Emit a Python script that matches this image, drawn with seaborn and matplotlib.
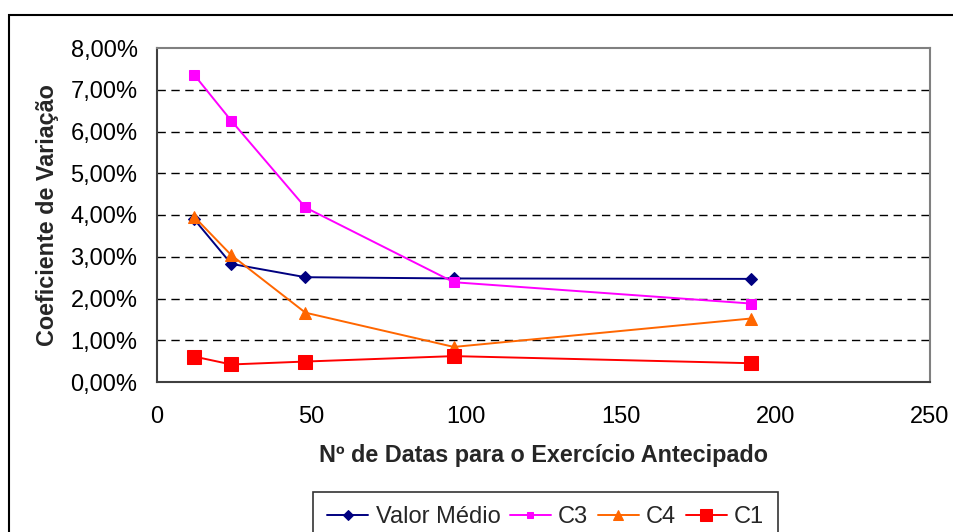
import matplotlib
matplotlib.use("Agg")
import matplotlib.pyplot as plt
import seaborn as sns
import pandas as pd
from matplotlib.patches import Rectangle
from matplotlib.ticker import FuncFormatter

sns.set_theme(style="white")
plt.rcParams['font.family'] = ['Liberation Sans', 'DejaVu Sans']

x_vals = [12, 24, 48, 96, 192]
valor_medio = [3.90, 2.83, 2.51, 2.48, 2.47]
c3 = [7.36, 6.26, 4.18, 2.39, 1.88]
c4 = [3.96, 3.04, 1.66, 0.84, 1.52]
c1 = [0.61, 0.42, 0.49, 0.62, 0.45]
series_names = ["Valor Médio", "C3", "C4", "C1"]
y_ticks = [0, 1, 2, 3, 4, 5, 6, 7, 8]
x_ticks = [0, 50, 100, 150, 200, 250]

styles = {
    "Valor Médio": dict(color="#000080", marker="D", markersize=6.5),
    "C3": dict(color="#FF00FF", marker="s", markersize=6.5),
    "C4": dict(color="#FF6600", marker="^", markersize=9),
    "C1": dict(color="#FF0000", marker="s", markersize=10.5),
}

frames = []
for name, vals in zip(series_names, [valor_medio, c3, c4, c1]):
    frames.append(pd.DataFrame({"x": x_vals, "y": vals, "serie": name}))
df = pd.concat(frames, ignore_index=True)

fig = plt.figure(figsize=(9.54, 5.32), dpi=100)
ax = fig.add_axes([157/954, 1-382/532, (930-157)/954, (382-48)/532])

for name in series_names:
    st = styles[name]
    sns.lineplot(data=df[df.serie == name], x="x", y="y", ax=ax, label=name,
                 color=st["color"], marker=st["marker"], markersize=st["markersize"],
                 markeredgecolor=st["color"], linewidth=1.4, errorbar=None)

ax.set_xlim(0, 250)
ax.set_ylim(0, 8)
ax.set_xticks(x_ticks)
ax.set_yticks(y_ticks)
ax.yaxis.set_major_formatter(FuncFormatter(lambda v, p: f"{v:.2f}%".replace(".", ",")))
ax.tick_params(axis="both", labelsize=17, colors="black", direction="out", length=5, width=1.2)
ax.tick_params(axis="y", pad=9)
ax.tick_params(axis="x", pad=12)

for yv in y_ticks[1:-1]:
    ax.axhline(yv, color="black", linestyle=(0, (6, 4)), linewidth=1.0, zorder=0)

for side in ["top", "right"]:
    ax.spines[side].set_color("#808080")
    ax.spines[side].set_linewidth(1.5)
for side in ["left", "bottom"]:
    ax.spines[side].set_color("#404040")
    ax.spines[side].set_linewidth(1.5)

ax.set_xlabel("Nº de Datas para o Exercício Antecipado", fontsize=16.8, fontweight="bold", labelpad=12)
ax.set_ylabel("Coeficiente de Variação", fontsize=16.8, fontweight="bold", labelpad=8)

leg = ax.legend(loc="upper left", bbox_to_anchor=(313/954, 1-492/532), bbox_transform=fig.transFigure,
                ncol=4, fontsize=17, frameon=True, fancybox=False, borderaxespad=0,
                handlelength=1.75, handletextpad=0.3, columnspacing=0.4, borderpad=0.6)
leg.get_frame().set_edgecolor("black")
leg.get_frame().set_linewidth(1.2)
for h, s in zip(leg.legend_handles, [5, 5, 7, 9]):
    h.set_markersize(s)

fig.patches.append(Rectangle((9/954, -0.05), 1.0, 1-15/532+0.05, transform=fig.transFigure,
                             fill=False, edgecolor="black", linewidth=1.5, clip_on=False))

fig.savefig("out.png", dpi=100)
